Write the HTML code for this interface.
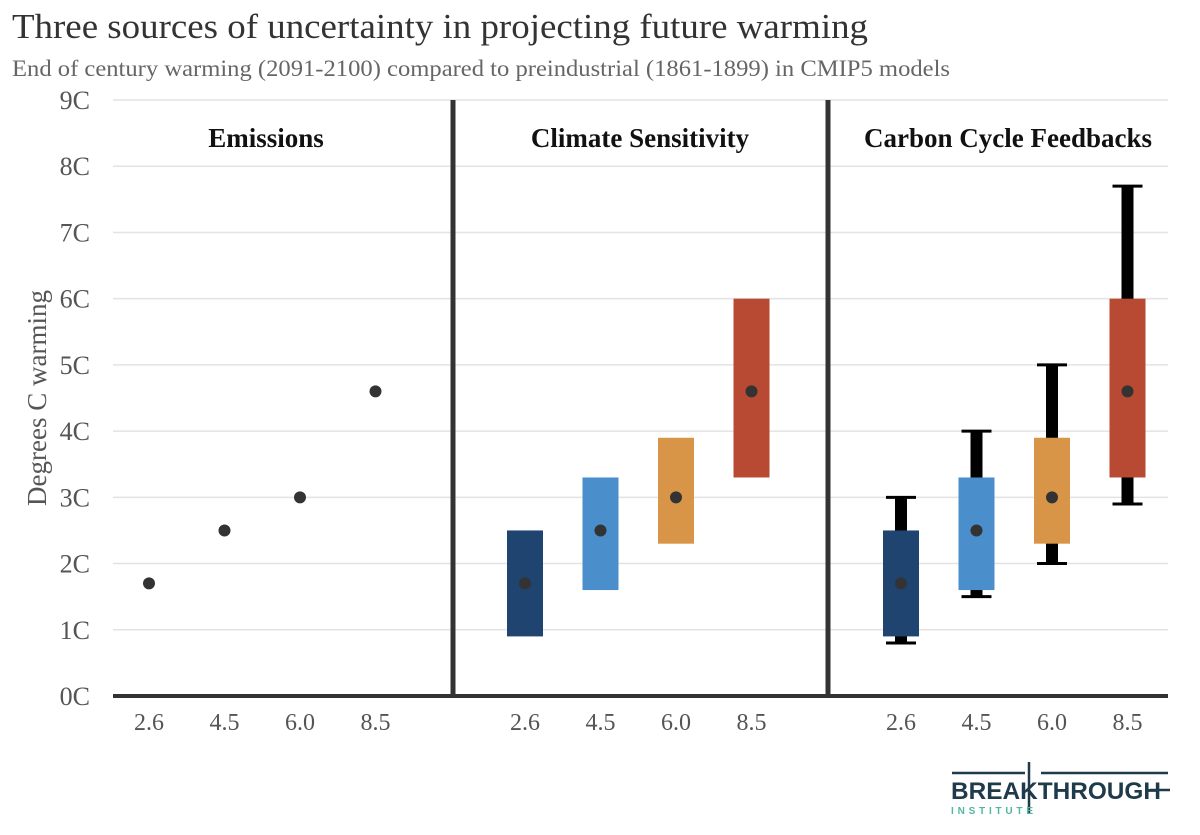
<!DOCTYPE html>
<html><head><meta charset="utf-8"><style>
body{margin:0;background:#fff;width:1200px;height:830px;overflow:hidden;font-family:"Liberation Serif",serif}
</style></head><body>
<svg width="1200" height="830">
<text x="12" y="38" font-size="35" textLength="856" lengthAdjust="spacingAndGlyphs" fill="#333">Three sources of uncertainty in projecting future warming</text>
<text x="12" y="76" font-size="23" textLength="938" lengthAdjust="spacingAndGlyphs" fill="#666">End of century warming (2091-2100) compared to preindustrial (1861-1899) in CMIP5 models</text>
<g id="grid"></g>
<g id="marks"></g>
<text transform="translate(46,398) rotate(-90)" text-anchor="middle" font-size="27" fill="#555">Degrees C warming</text>
<g>
<line x1="952" y1="773" x2="1025" y2="773" stroke="#1f3a4a" stroke-width="2.5"/>
<line x1="1041" y1="773" x2="1168" y2="773" stroke="#1f3a4a" stroke-width="2.5"/>
<line x1="1029" y1="762" x2="1029" y2="813" stroke="#1f3a4a" stroke-width="2.5"/>
<text x="951" y="799" font-family="Liberation Sans,sans-serif" font-weight="bold" font-size="24" textLength="210" lengthAdjust="spacingAndGlyphs" fill="#1f3a4a">BREAKTHROUGH</text>
<line x1="1150" y1="790" x2="1170" y2="790" stroke="#1f3a4a" stroke-width="2.5"/>
<text x="951" y="814" font-family="Liberation Sans,sans-serif" font-weight="bold" font-size="10" textLength="82" lengthAdjust="spacing" fill="#4fb8a0">INSTITUTE</text>
</g>
</svg>
<script>
const yTicks=[0,1,2,3,4,5,6,7,8,9];
const scenarios=["2.6","4.5","6.0","8.5"];
const panels=["Emissions","Climate Sensitivity","Carbon Cycle Feedbacks"];
const means=[1.7,2.5,3.0,4.6];
const boxLow=[0.9,1.6,2.3,3.3];
const boxHigh=[2.5,3.3,3.9,6.0];
const whiskLow=[0.8,1.5,2.0,2.9];
const whiskHigh=[3.0,4.0,5.0,7.7];
const colors=["#1f4470","#4a8fcb","#d89548","#b84a33"];
const NS="http://www.w3.org/2000/svg";
const y=v=>696-v*66.22;
const x=(p,i)=>149+p*376+i*75.5;
function mk(par,tag,at){const e=document.createElementNS(NS,tag);for(const k in at)e.setAttribute(k,at[k]);document.getElementById(par).appendChild(e);return e;}
yTicks.forEach(t=>{
 if(t>0){const l=mk('grid','line',{x1:113,x2:1168,y1:y(t),y2:y(t),stroke:'#e3e3e3','stroke-width':1.5});
 
 }
 const tx=mk('grid','text',{x:90,y:y(t)+9,'text-anchor':'end','font-size':26,fill:'#555'});tx.textContent=t+'C';
 
 
});
panels.forEach((p,pi)=>{
 const t=mk('grid','text',{x:[266,640,1008][pi],y:147,'text-anchor':'middle','font-size':27,'font-weight':'bold',fill:'#111'});t.textContent=p;
 
 
 scenarios.forEach((s,i)=>{const l=mk('grid','text',{x:x(pi,i),y:730,'text-anchor':'middle','font-size':24,fill:'#555'});l.textContent=s;
 
 });
});
[453,828].forEach(v=>{const d=mk('grid','line',{x1:v,x2:v,y1:100,y2:696,stroke:'#333','stroke-width':5});
 
 });
const ax=mk('grid','line',{x1:113,x2:1168,y1:696,y2:696,stroke:'#333','stroke-width':4});


for(let pi=0;pi<3;pi++){
 scenarios.forEach((s,i)=>{
  const cx=x(pi,i);
  if(pi===2){
   const w=mk('marks','rect',{x:cx-6,width:12,y:y(whiskHigh[i]),height:y(whiskLow[i])-y(whiskHigh[i]),fill:'#000'});
   
   
   [whiskHigh[i],whiskLow[i]].forEach(v=>{const c=mk('marks','line',{x1:cx-15,x2:cx+15,y1:y(v),y2:y(v),stroke:'#000','stroke-width':3});
    
    });
  }
  if(pi>0){
   const b=mk('marks','rect',{x:cx-18,width:36,y:y(boxHigh[i]),height:y(boxLow[i])-y(boxHigh[i]),fill:colors[i]});
   
   
  }
  const c=mk('marks','circle',{cx:cx,cy:y(means[i]),r:6,fill:'#333'});
  
  
 });
}
</script>
</body></html>
